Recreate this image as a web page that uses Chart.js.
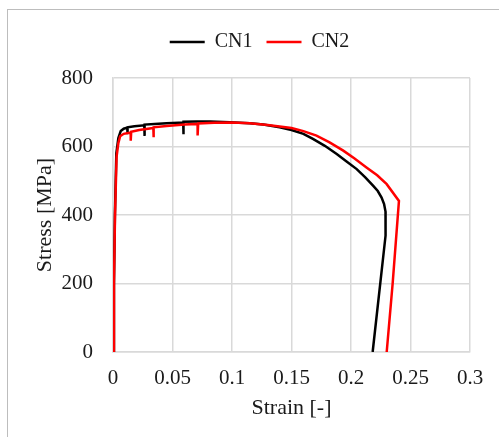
<!DOCTYPE html>
<html>
<head>
<meta charset="utf-8">
<script src="https://cdn.jsdelivr.net/npm/chart.js@4/dist/chart.umd.min.js"></script>
<style>
  html, body { margin: 0; padding: 0; background: #fff; }
  #wrap { position: relative; width: 499px; height: 437px; overflow: hidden; }
  #frame { position: absolute; left: 7px; top: 9px; width: 520px; height: 460px;
           border-left: 1px solid #bdbdbd; border-top: 1px solid #bdbdbd; }
</style>
</head>
<body>
<div id="wrap">
  <div id="frame"></div>
  <canvas id="myChart"></canvas>
</div>
<script>
// data: [strain, stress]
const cn1Strain = [0, 0.0008, 0.0016, 0.0028, 0.0045, 0.0065, 0.009, 0.012, 0.012, 0.0125, 0.018, 0.0263, 0.0263, 0.0268,
    0.035, 0.045, 0.059, 0.059, 0.0595, 0.07, 0.0815, 0.098, 0.115, 0.1263, 0.14, 0.15, 0.16, 0.168, 0.178, 0.188,
    0.196, 0.2048, 0.212, 0.2187, 0.2225, 0.2257, 0.2278, 0.229, 0.2293, 0.2288, 0.2182];
const cn1Stress = [0, 200, 400, 580, 625, 645, 652, 655, 636, 656, 659, 662, 631, 664,
    666, 668, 670, 636, 672, 673, 673, 671, 668, 664, 656, 648, 637, 622, 602, 578,
    557, 534, 510, 485, 470, 451, 432, 410, 385, 340, 0];

const cn2Strain = [0, 0.0008, 0.0017, 0.003, 0.0045, 0.006, 0.009, 0.0149, 0.0149, 0.0153, 0.022, 0.0339, 0.0339, 0.0344,
    0.045, 0.06, 0.0711, 0.0711, 0.0716, 0.085, 0.1, 0.115, 0.13, 0.15, 0.16, 0.171, 0.182, 0.1935,
    0.203, 0.213, 0.222, 0.23, 0.2403, 0.235, 0.23];
const cn2Stress = [0, 200, 400, 570, 610, 630, 637, 641, 617, 643, 648, 654, 627, 656,
    660, 664, 666, 632, 667, 669, 670, 668, 663, 654, 645, 632, 612, 588,
    565, 539, 516, 490, 441, 200, 0];

const seriesNames = ['CN1', 'CN2'];
const xTickLabels = ['0', '0.05', '0.1', '0.15', '0.2', '0.25', '0.3'];
const yTickLabels = ['0', '200', '400', '600', '800'];

function toPoints(xs, ys) {
    let pts = [];
    for (let i = 0; i < xs.length; i++) {
        pts.push({x: xs[i], y: ys[i]});
    }
    return pts;
}

const serif = 'Liberation Serif, Times New Roman, serif';
const textColor = '#1a1a1a';
const gridColor = '#d9d9d9';

const ctx = document.getElementById('myChart').getContext('2d');
const myChart = new Chart(ctx, {
    type: 'scatter',
    data: {
        datasets: [{
            label: seriesNames[0],
            data: toPoints(cn1Strain, cn1Stress),
            showLine: true,
            borderColor: '#000000',
            backgroundColor: '#000000',
            borderWidth: 2.5,
            pointRadius: 0,
            order: 1
        }, {
            label: seriesNames[1],
            data: toPoints(cn2Strain, cn2Stress),
            showLine: true,
            borderColor: '#ff0000',
            backgroundColor: '#ff0000',
            borderWidth: 2.5,
            pointRadius: 0,
            order: 0
        }]
    },
    options: {
        responsive: true,
        maintainAspectRatio: false,
        animation: false,
        layout: { padding: { left: 49, right: 29, top: 18, bottom: 0 } },
        plugins: {
            tooltip: { enabled: false },
            legend: {
                position: 'top',
                labels: {
                    usePointStyle: true,
                    pointStyle: 'line',
                    pointStyleWidth: 35,
                    padding: 14,
                    color: textColor,
                    font: { family: serif, size: 20 },
                    sort: (a, b) => a.datasetIndex - b.datasetIndex
                }
            }
        },
        scales: {
            x: {
                type: 'linear',
                position: 'bottom',
                min: 0,
                max: 0.3,
                afterFit: s => { s.height = 85; },
                ticks: {
                    stepSize: 0.05,
                    padding: 14,
                    color: textColor,
                    font: { family: serif, size: 21 },
                    maxRotation: 0,
                    callback: (v, i) => xTickLabels[i]
                },
                grid: { color: gridColor, lineWidth: 1.5, drawTicks: false },
                border: { color: gridColor, width: 1.5 },
                title: {
                    display: true,
                    text: 'Strain [-]',
                    color: textColor,
                    font: { family: serif, size: 22 },
                    padding: { top: 0, bottom: 16 }
                }
            },
            // empty spacer between the legend and the plot
            gap: {
                type: 'linear',
                position: 'top',
                display: true,
                afterFit: s => { s.height = 16; },
                ticks: { display: false },
                grid: { display: false },
                border: { display: false }
            },
            y: {
                type: 'linear',
                position: 'left',
                min: 0,
                max: 800,
                afterFit: s => { s.width = 64; },
                ticks: {
                    stepSize: 200,
                    padding: 20,
                    color: textColor,
                    font: { family: serif, size: 21 },
                    callback: (v, i) => yTickLabels[i]
                },
                grid: { color: gridColor, lineWidth: 1.5, drawTicks: false },
                border: { color: gridColor, width: 1.5 },
                title: {
                    display: true,
                    text: 'Stress [MPa]',
                    color: textColor,
                    font: { family: serif, size: 22 },
                    padding: { top: -17, bottom: 0 }
                }
            }
        }
    }
});
</script>
</body>
</html>
